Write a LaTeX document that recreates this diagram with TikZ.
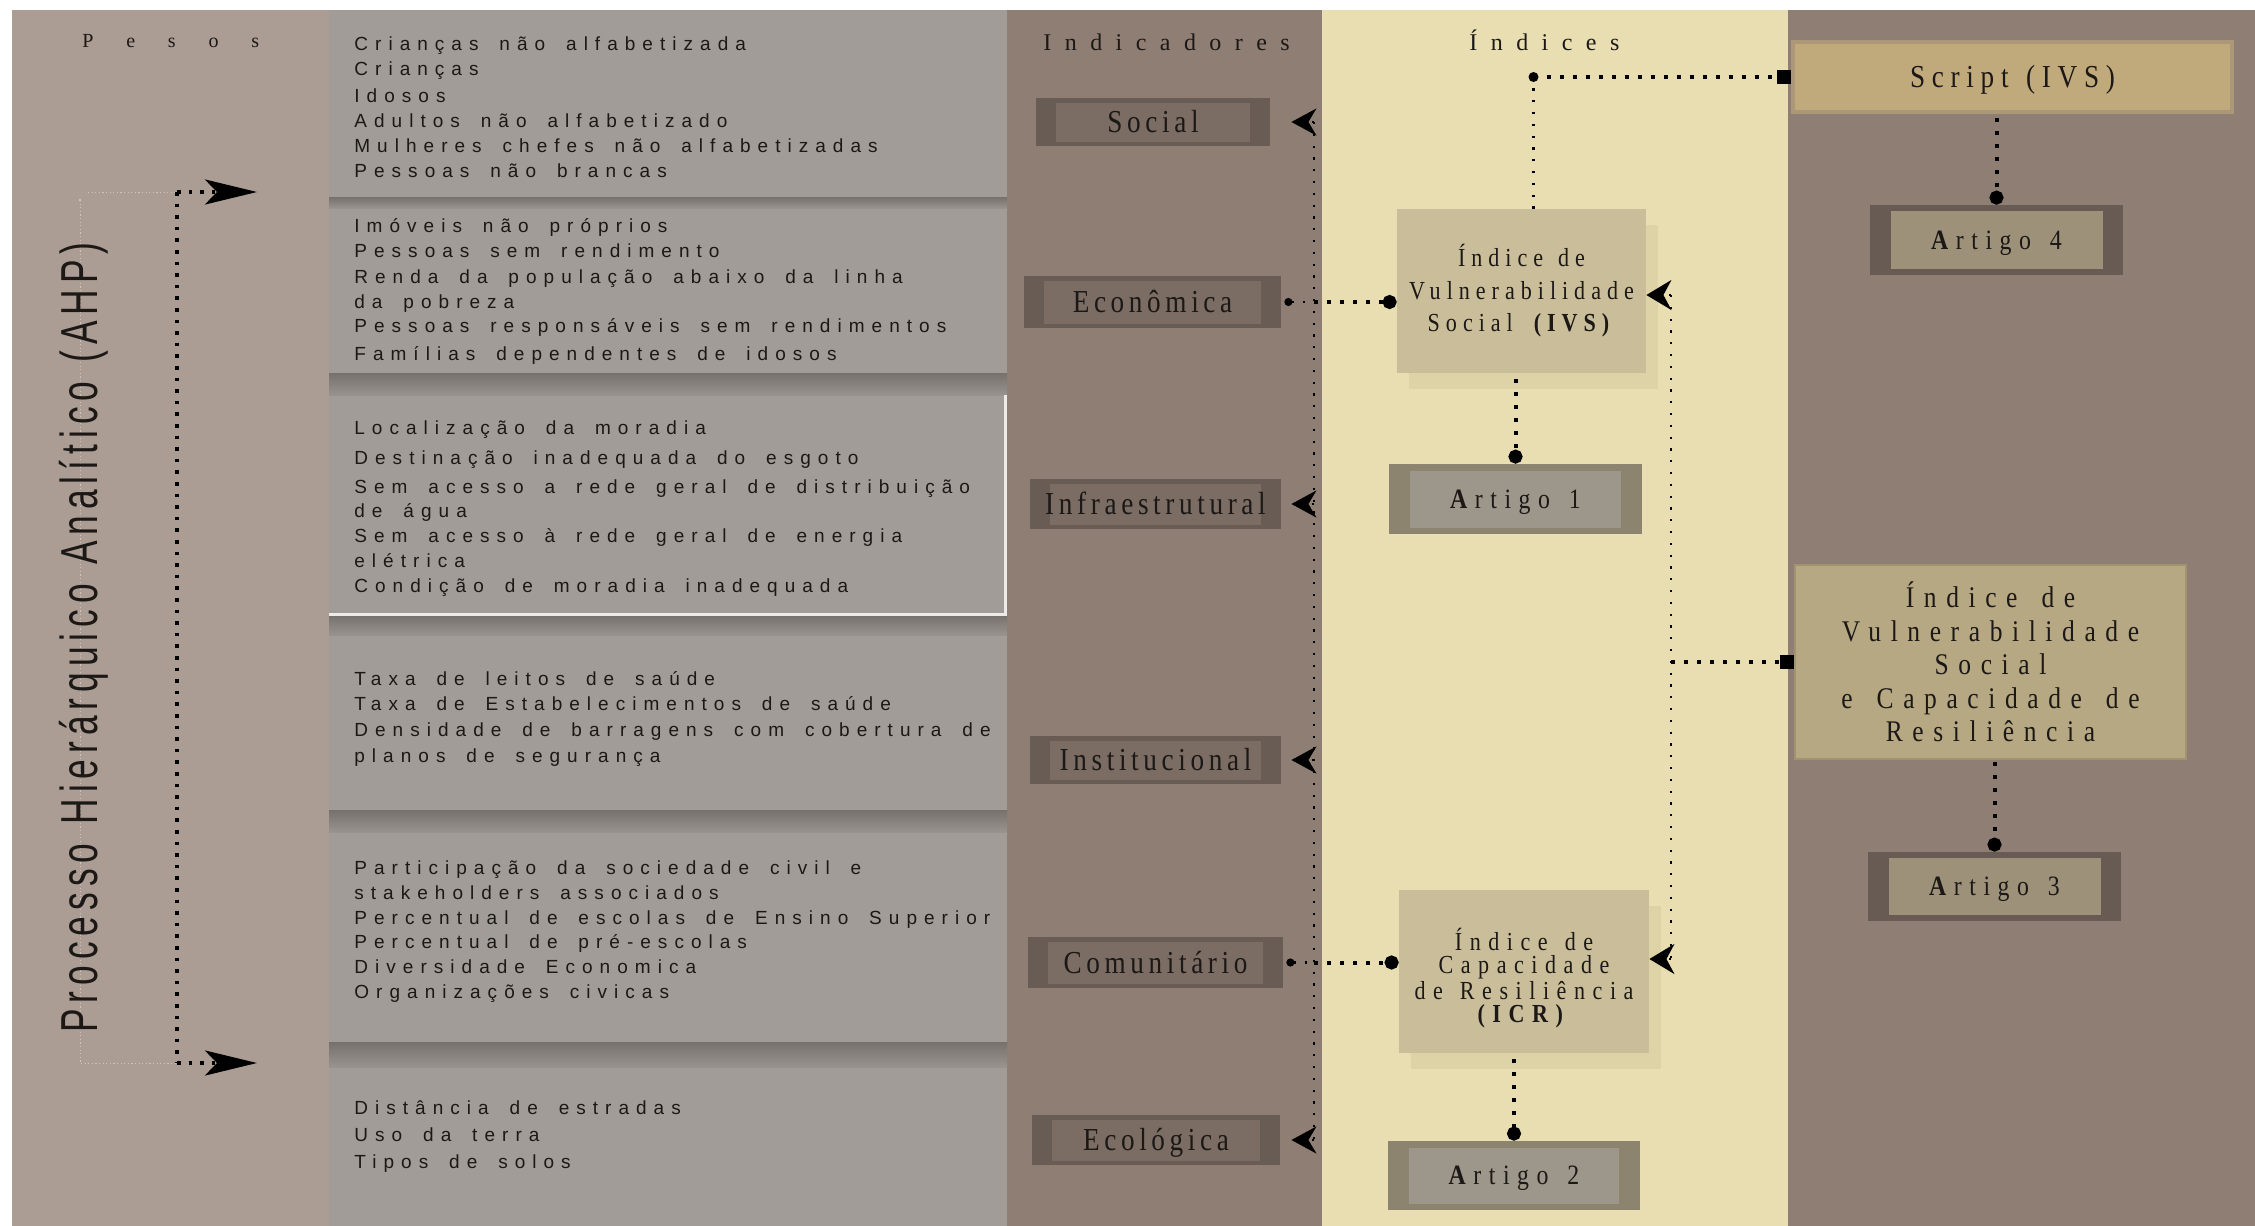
\documentclass[tikz,border=0pt]{standalone}
\usepackage{fontspec}
\setmainfont{Liberation Serif}
\newfontfamily\pesosf[LetterSpace=164]{Liberation Serif}
\newfontfamily\hdrf[LetterSpace=56]{Liberation Serif}
\newfontfamily\lblf[FakeStretch=0.85,LetterSpace=14.5]{Liberation Serif}
\newfontfamily\artf[FakeStretch=0.85,LetterSpace=27,WordSpace=1.4]{Liberation Serif}
\newfontfamily\ivsf[FakeStretch=0.85,LetterSpace=23,WordSpace=1.3]{Liberation Serif}
\newfontfamily\icrf[FakeStretch=0.85,LetterSpace=29,WordSpace=1.3]{Liberation Serif}
\newfontfamily\scrf[FakeStretch=0.85,LetterSpace=21,WordSpace=1.3]{Liberation Serif}
\newfontfamily\bigf[FakeStretch=0.85,LetterSpace=32,WordSpace=1.5]{Liberation Serif}
\newfontfamily\itemf[LetterSpace=37,WordSpace=1.7]{Liberation Sans}
\newfontfamily\ahpf[FakeStretch=0.68,LetterSpace=11.5,WordSpace=1.2]{Liberation Sans}
\usetikzlibrary{arrows.meta,calc,shadows}

\definecolor{pesosC}{RGB}{171,157,148}
\definecolor{panelC}{RGB}{161,156,152}
\definecolor{bandTop}{RGB}{118,113,109}
\definecolor{bandBot}{RGB}{152,147,143}
\definecolor{brownC}{RGB}{143,126,115}
\definecolor{creamC}{RGB}{232,222,177}
\definecolor{indOut}{RGB}{104,92,85}
\definecolor{indIn}{RGB}{123,109,100}
\definecolor{artAOut}{RGB}{141,132,112}
\definecolor{artAIn}{RGB}{156,151,138}
\definecolor{artBOut}{RGB}{103,91,84}
\definecolor{artBIn}{RGB}{157,146,121}
\definecolor{idxC}{RGB}{201,190,153}
\definecolor{idxShadow}{RGB}{222,211,167}
\definecolor{scrC}{RGB}{192,170,124}
\definecolor{scrEdge}{RGB}{172,152,120}
\definecolor{bigC}{RGB}{182,168,130}
\definecolor{bigEdge}{RGB}{160,147,110}
\definecolor{txtC}{RGB}{28,24,22}
\definecolor{faintC}{RGB}{205,196,190}

\tikzset{
  itemtxt/.style={anchor=base west, inner sep=0pt, text=txtC, font=\itemf\fontsize{9.5pt}{12pt}\selectfont},
  hdr/.style={anchor=base west, inner sep=0pt, text=txtC},
  indbox/.style={rectangle, inner sep=0pt, fill=indOut, text=txtC,
    font=\lblf\fontsize{16pt}{19pt}\selectfont, text height=10.6pt, text depth=0pt,
    path picture={\fill[indIn] ($(path picture bounding box.north west)+(20,5)$) rectangle ($(path picture bounding box.south east)+(-20,-4)$);}},
  artboxA/.style={rectangle, inner sep=0pt, fill=artAOut, text=txtC,
    font=\artf\fontsize{14pt}{17pt}\selectfont, text height=9.3pt, text depth=0pt,
    path picture={\fill[artAIn] ($(path picture bounding box.north west)+(21,7)$) rectangle ($(path picture bounding box.south east)+(-21,-6)$);}},
  artboxB/.style={rectangle, inner sep=0pt, fill=artBOut, text=txtC,
    font=\artf\fontsize{14pt}{17pt}\selectfont, text height=9.3pt, text depth=0pt,
    path picture={\fill[artBIn] ($(path picture bounding box.north west)+(21,6)$) rectangle ($(path picture bounding box.south east)+(-20,-6)$);}},
  idxbox/.style={rectangle, inner sep=0pt, fill=idxC, text=txtC, align=center,
    drop shadow={shadow xshift=6pt, shadow yshift=-8pt, fill=idxShadow, opacity=1}},
  thickdots/.style={line width=2pt, dash pattern=on 2pt off 4.5pt, draw=black},
  thindots/.style={line width=1.1pt, dash pattern=on 1.1pt off 4.8pt, draw=black},
  pdots/.style={line width=1.8pt, dash pattern=on 1.8pt off 4pt, draw=black},
  faintdots/.style={line width=0.5pt, dash pattern=on 0.6pt off 1.2pt, draw=faintC},
  tipInd/.tip={Stealth[length=12.5pt,width=13.5pt,inset=4pt]},
  tipIdx/.tip={Stealth[length=12.5pt,width=15pt,inset=4pt]},
  tipBig/.tip={Stealth[length=26pt,width=12.5pt,inset=6pt]},
  dotS/.tip={Circle[length=4pt]},
  dotB/.tip={Circle[length=7pt]},
  sqTip/.tip={Square[length=7pt]},
}

\begin{document}
\begin{tikzpicture}[x=0.5pt,y=-0.5pt]
\useasboundingbox (0,0) rectangle (2255,1226);
\fill[white] (0,0) rectangle (2255,1226);
% columns
\fill[pesosC] (12,10) rectangle (329,1226);
\fill[panelC] (329,10) rectangle (1007,1226);
\fill[brownC] (1007,10) rectangle (1322,1226);
\fill[creamC] (1322,10) rectangle (1788,1226);
\fill[brownC] (1788,10) rectangle (2255,1226);
% bands between text sections
\shade[top color=bandTop, bottom color=bandBot] (329,197) rectangle (1007,208);
\shade[top color=bandTop, bottom color=bandBot] (329,373) rectangle (1007,395);
\shade[top color=bandTop, bottom color=bandBot] (329,615) rectangle (1007,635);
\shade[top color=bandTop, bottom color=bandBot] (329,810) rectangle (1007,832);
\shade[top color=bandTop, bottom color=bandBot] (329,1042) rectangle (1007,1067);
\draw[white!80!panelC, line width=1.5pt] (329,614) -- (1005,614) -- (1005,395);

% Pesos column connectors
\coordinate (pTop) at (177,192);
\coordinate (pBot) at (177,1063);
\coordinate (pTopTip) at (257,192);
\coordinate (pBotTip) at (257,1063);
\coordinate (fTop) at (80,200);
\coordinate (fBot) at (80,1063);
\coordinate (fTopL) at (88,192);
\draw[faintdots] (fTop) -- (fBot) -- (pBot);
\draw[faintdots] (fTopL) -- (pTop);
\fill[faintC] (fTop) circle (1.5);
\draw[pdots] (pTop) -- (pBot);
\draw[pdots, -tipBig] (pTop) -- (pTopTip);
\draw[pdots, -tipBig] (pBot) -- (pBotTip);

% headers
\node[hdr, font=\pesosf\fontsize{10pt}{12pt}\selectfont] (pesos) at (82,47) {Pesos};
\node[hdr, font=\hdrf\fontsize{12pt}{14pt}\selectfont] (indic) at (1043,50) {Indicadores};
\node[hdr, font=\hdrf\fontsize{12pt}{14pt}\selectfont] (indices) at (1469,50) {Índices};
\node[anchor=base west, rotate=90, inner sep=0pt, text=txtC, font=\ahpf\fontsize{26pt}{30pt}\selectfont] (ahp) at (97,1033) {Processo Hierárquico Analítico (AHP)};

% items
\foreach \ypos/\ltext [count=\k] in {
  50/Crianças não alfabetizada,
  75/Crianças,
  102/Idosos,
  127/Adultos não alfabetizado,
  152/Mulheres chefes não alfabetizadas,
  177/Pessoas não brancas,
  232/Imóveis não próprios,
  257/Pessoas sem rendimento,
  283/Renda da população abaixo da linha,
  308/da pobreza,
  332/Pessoas responsáveis sem rendimentos,
  360/Famílias dependentes de idosos,
  434/Localização da moradia,
  464/Destinação inadequada do esgoto,
  493/Sem acesso a rede geral de distribuição,
  517/de água,
  542/Sem acesso à rede geral de energia,
  567/elétrica,
  592/Condição de moradia inadequada,
  685/Taxa de leitos de saúde,
  710/Taxa de Estabelecimentos de saúde,
  736/Densidade de barragens com cobertura de,
  762/planos de segurança,
  874/Participação da sociedade civil e,
  899/stakeholders associados,
  924/Percentual de escolas de Ensino Superior,
  948/Percentual de pré-escolas,
  973/Diversidade Economica,
  998/Organizações civicas,
  1114/Distância de estradas,
  1141/Uso da terra,
  1168/Tipos de solos}
  \node[itemtxt] (item\k) at (354,\ypos) {\ltext};

% indicator boxes
\node[indbox, minimum width=117pt, minimum height=24pt] (social) at (1153,122) {Social};
\node[indbox, minimum width=128.5pt, minimum height=26pt] (econ) at (1152.5,302) {Econômica};
\node[indbox, minimum width=125.5pt, minimum height=25pt] (infra) at (1155.5,504) {Infraestrutural};
\node[indbox, minimum width=125.5pt, minimum height=24pt] (inst) at (1155.5,760) {Institucional};
\node[indbox, minimum width=127.5pt, minimum height=25.5pt] (comu) at (1155.5,962.5) {Comunitário};
\node[indbox, minimum width=124pt, minimum height=25pt] (eco) at (1156,1140) {Ecológica\hspace{25pt}};

% index boxes
\node[idxbox, minimum width=124.5pt, minimum height=82pt, font=\ivsf\fontsize{13pt}{16.25pt}\selectfont] (ivs) at (1521.5,291) {Índice de\\Vulnerabilidade\\Social \textbf{(IVS)}};
\node[idxbox, minimum width=125pt, minimum height=81.5pt, font=\icrf\fontsize{13pt}{11.6pt}\selectfont] (icr) at (1524,971.5) {\rule{0pt}{18pt}Índice de\\Capacidade\\de Resiliência\\\textbf{(ICR)}};
\node[rectangle, inner sep=0pt, fill=scrC, draw=scrEdge, line width=2pt, text=txtC, minimum width=219.5pt, minimum height=35pt, font=\scrf\fontsize{16pt}{19pt}\selectfont, text height=10.6pt, text depth=0pt] (script) at (2012.5,77) {Script (IVS)};
\node[rectangle, inner sep=0pt, fill=bigC, draw=bigEdge, line width=1pt, text=txtC, align=center, minimum width=195.5pt, minimum height=97pt, font=\bigf\fontsize{15pt}{16.75pt}\selectfont] (ivscr) at (1990.5,662) {Índice de\\Vulnerabilidade\\Social\\e Capacidade de\\Resiliência};

% artigo boxes
\node[artboxA, minimum width=126.5pt, minimum height=35pt] (art1) at (1515.5,499) {\textbf{A}rtigo 1};
\node[artboxA, minimum width=126pt, minimum height=34.5pt] (art2) at (1514,1175.5) {\textbf{A}rtigo 2};
\node[artboxB, minimum width=126.5pt, minimum height=34.5pt] (art3) at (1994.5,886.5) {\textbf{A}rtigo 3};
\node[artboxB, minimum width=126.5pt, minimum height=35pt] (art4) at (1996.5,240) {\textbf{A}rtigo 4};

% left bus (indicators)
\coordinate (lbusX) at (1314,0);
\coordinate (rbusX) at (1671,0);
\draw[thindots] (social.east -| lbusX) -- (eco.east -| lbusX);
\draw[thindots, -tipInd, shorten >=10.5pt] (social.east -| lbusX) -- (social.east);
\draw[thindots, -tipInd, shorten >=5pt] (infra.east -| lbusX) -- (infra.east);
\draw[thindots, -tipInd, shorten >=5pt] (inst.east -| lbusX) -- (inst.east);
\draw[thindots, -tipInd, shorten >=5.5pt] (eco.east -| lbusX) -- (eco.east);

% econ -> ivs, comu -> icr
\draw[thindots, dotS-, shorten <=1.5pt] (econ.east) -- (econ.east -| lbusX);
\draw[thickdots, -dotB] (econ.east -| lbusX) -- (econ.east -| ivs.west);
\draw[thindots, dotS-, shorten <=1.5pt] (comu.east) -- (comu.east -| lbusX);
\draw[thickdots, -dotB] (comu.east -| lbusX) -- (comu.east -| icr.west);

% index -> artigo
\draw[thickdots, -dotB, shorten <=3pt] (art1.north |- ivs.south) -- (art1.north);
\draw[thickdots, -dotB, shorten <=3pt] (art2.north |- icr.south) -- (art2.north);
\draw[thickdots, -dotB, shorten <=2pt] (art4.north |- script.south) -- (art4.north);
\draw[thickdots, -dotB, shorten <=1pt] (art3.north |- ivscr.south) -- (art3.north);

% ivs top -> script
\coordinate (ivsTopPt) at ([xshift=6pt]ivs.north);
\draw[thindots] (ivsTopPt) -- (ivsTopPt |- script.west);
\draw[thickdots, -sqTip] (ivsTopPt |- script.west) -- (script.west);
\fill (ivsTopPt |- script.west) circle (5);

% right bus
\coordinate (ivsE) at ([yshift=-2pt]ivs.east);
\coordinate (icrE) at ([yshift=6.25pt]icr.east);
\draw[thindots] (ivsE -| rbusX) -- (icrE -| rbusX);
\draw[thindots, -tipIdx] (ivsE -| rbusX) -- (ivsE);
\draw[thindots, -tipIdx] (icrE -| rbusX) -- (icrE);
\draw[thickdots, -sqTip] (ivscr.west -| rbusX) -- (ivscr.west);
\end{tikzpicture}
\end{document}
